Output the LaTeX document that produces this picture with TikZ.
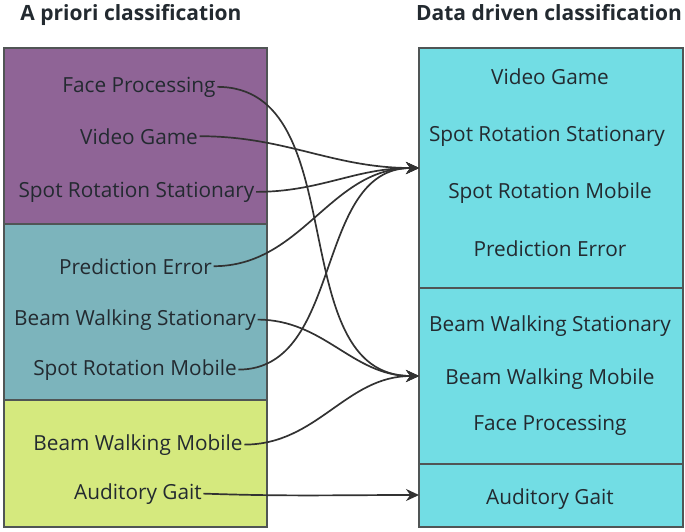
\documentclass[tikz,border=0pt]{standalone}
\usepackage{fontspec}
\setmainfont{Open Sans}
\usetikzlibrary{arrows.meta}
\definecolor{cpurple}{RGB}{143,100,150}
\definecolor{cteal}{RGB}{124,180,188}
\definecolor{cyell}{RGB}{213,233,126}
\definecolor{ccyan}{RGB}{114,221,228}
\definecolor{cedge}{RGB}{80,85,85}
\definecolor{cline}{RGB}{50,50,50}
\definecolor{ctext}{RGB}{35,42,48}
\tikzset{
  panel/.style={draw=cedge, line width=1.2pt},
  lbl/.style={font=\fontsize{20.8}{24}\selectfont, text=ctext, inner sep=1.5pt, anchor=base},
  ttl/.style={font=\bfseries\fontsize{21}{24}\selectfont, text=ctext, inner sep=0pt, anchor=base},
  conn/.style={draw=cline, line width=1.7pt, -{Stealth[length=13pt,width=12pt]}, out=0, in=180},
}
\begin{document}
\begin{tikzpicture}[x=1pt,y=-1pt]
\useasboundingbox (0,0) rectangle (685,531);
% left panels
\draw[panel, fill=cpurple] (4,48) rectangle (267,224);
\draw[panel, fill=cteal] (4,224) rectangle (267,400);
\draw[panel, fill=cyell] (4,400) rectangle (267,527);
% right panels
\draw[panel, fill=ccyan] (419,48) rectangle (683,288);
\draw[panel, fill=ccyan] (419,288) rectangle (683,464);
\draw[panel, fill=ccyan] (419,464) rectangle (683,527);
% titles
\node[ttl] (tl) at (131,20) {A priori classification};
\node[ttl] (tr) at (549,20) {Data driven classification};
% left labels
\node[lbl] (lfp) at (139,92) {Face Processing};
\node[lbl] (lvg) at (139,144) {Video Game};
\node[lbl] (lsrs) at (136.5,197) {Spot Rotation Stationary};
\node[lbl] (lpe) at (135.5,274) {Prediction Error};
\node[lbl] (lbws) at (135,325) {Beam Walking Stationary};
\node[lbl] (lsrm) at (135,375) {Spot Rotation Mobile};
\node[lbl] (lbwm) at (138,450) {Beam Walking Mobile};
\node[lbl] (lag) at (138,499) {Auditory Gait};
% right labels
\node[lbl] (rvg) at (550,84) {Video Game};
\node[lbl] (rsrs) at (547,141) {Spot Rotation Stationary};
\node[lbl] (rsrm) at (550,198) {Spot Rotation Mobile};
\node[lbl] (rpe) at (550,256) {Prediction Error};
\node[lbl] (rbws) at (550,331) {Beam Walking Stationary};
\node[lbl] (rbwm) at (550,384) {Beam Walking Mobile};
\node[lbl] (rfp) at (550,430) {Face Processing};
\node[lbl] (rag) at (550,504) {Auditory Gait};
% targets
\coordinate (t1) at (419,168);
\coordinate (t2) at (419,376);
\coordinate (t3) at (419,495);
% connectors
\draw[conn] (lfp.east) to (t2);
\draw[conn] (lvg.east) to (t1);
\draw[conn] (lsrs.east) to (t1);
\draw[conn] (lpe.east) to (t1);
\draw[conn] (lbws.east) to (t2);
\draw[conn] (lsrm.east) to (t1);
\draw[conn] (lbwm.east) to (t2);
\draw[conn, out=-2, in=180] (lag.east) to (t3);
\end{tikzpicture}
\end{document}
